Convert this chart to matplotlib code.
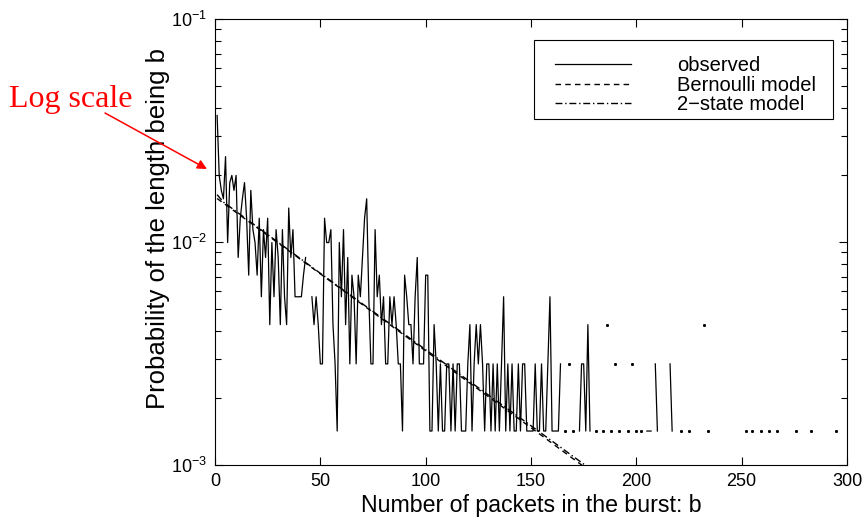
import numpy as np
import matplotlib
matplotlib.use("Agg")
import matplotlib.pyplot as plt
from matplotlib.patches import Rectangle

plt.rcParams['font.family'] = ['Liberation Sans', 'DejaVu Sans']

# observed burst-length counts for b = 1..180 (0 = no burst of that length)
counts_head = [
    26, 14, 12, 11, 17, 7, 13, 14, 12, 14,
    6, 9, 11, 13, 9, 5, 12, 8, 7, 5,
    9, 4, 8, 6, 9, 3, 7, 4, 8, 6,
    3, 8, 4, 3, 10, 6, 8, 4, 4, 4,
    4, 5, 6, 0, 0, 4, 3, 4, 3, 2,
    2, 9, 7, 7, 8, 3, 2, 1, 7, 4,
    8, 3, 6, 2, 5, 4, 2, 5, 4, 6,
    9, 11, 4, 2, 2, 8, 4, 5, 3, 4,
    2, 2, 4, 3, 4, 3, 2, 2, 1, 5,
    4, 3, 3, 2, 4, 6, 2, 2, 2, 5,
    5, 1, 1, 3, 2, 1, 2, 1, 1, 2,
    2, 1, 2, 1, 2, 2, 1, 1, 1, 2,
    3, 1, 2, 3, 2, 3, 2, 1, 2, 2,
    1, 2, 1, 2, 1, 2, 4, 1, 2, 1,
    2, 1, 1, 2, 1, 2, 2, 1, 1, 1,
    1, 2, 1, 1, 2, 1, 1, 2, 4, 1,
    1, 1, 1, 2, 0, 1, 0, 2, 0, 1,
    0, 0, 1, 2, 2, 1, 3, 1, 0, 0,
]
# sparse tail (b > 180)
tail_b = [181, 184, 186, 188, 190, 192, 196, 198, 200, 202, 205, 206, 207, 209, 210,
          216, 217, 221, 225, 232, 234, 252, 255, 259, 263, 267, 276, 283, 295]
tail_k = [1, 1, 3, 1, 2, 1, 1, 2, 1, 1, 1, 1, 1, 2, 1,
          2, 1, 1, 1, 3, 1, 1, 1, 1, 1, 1, 1, 1, 1]
total_bursts = 704

# model curves
bern_b = [1, 50, 100, 150, 200, 300]
bern_p = [0.01567, 0.00720, 0.00325, 0.00147, 0.00066, 0.000135]
two_b = [1, 4, 50, 100, 150, 200, 300]
two_p = [0.0163, 0.0151, 0.00724, 0.00329, 0.00150, 0.00068, 0.00014]

b_obs = np.arange(1, 301)
k_obs = np.zeros(300)
k_obs[:len(counts_head)] = counts_head
for b, k in zip(tail_b, tail_k):
    k_obs[b - 1] = k
p_obs = np.where(k_obs > 0, k_obs / total_bursts, np.nan)

# single points with empty neighbours only show up as dots
has = k_obs > 0
prev_has = np.r_[False, has[:-1]]
next_has = np.r_[has[1:], False]
lonely = has & ~prev_has & ~next_has

fig = plt.figure(figsize=(8.68, 5.19), dpi=100)
ax = fig.add_axes([0.2477, 0.104, 0.7281, 0.8594])

ax.plot(b_obs, p_obs, color='black', lw=0.9, label='observed')
ax.plot(b_obs[lonely], p_obs[lonely], ls='none', marker='s', ms=1.1, color='black')
ax.plot(bern_b, bern_p, color='black', lw=1.0, ls=(0, (4, 3)), label='Bernoulli model')
ax.plot(two_b, two_p, color='black', lw=1.0, ls=(0, (5, 2, 1, 2)), label='2\u2212state model')

ax.set_yscale('log')
ax.set_xlim(0, 300)
ax.set_ylim(1e-3, 1e-1)
ax.set_xticks([0, 50, 100, 150, 200, 250, 300])
ax.tick_params(which='both', direction='in', top=True, right=True, labelsize=13, width=0.8)
ax.tick_params(which='major', length=6, pad=6)
ax.tick_params(which='minor', length=4)
ax.tick_params(axis='x', which='minor', bottom=False, top=False)
for s in ax.spines.values():
    s.set_linewidth(0.8)

ax.set_xlabel('Number of packets in the burst: b', fontsize=16.7)
ax.set_ylabel('Probability of the length being b', fontsize=18.5)
ax.xaxis.set_label_coords(0.5, -0.066)
ax.yaxis.set_label_coords(-0.072, 0.53)

# legend entries without frame, box drawn separately
leg = ax.legend(loc='upper left', bbox_to_anchor=(0.538, 0.916), borderaxespad=0,
                fontsize=14.5, handlelength=3.75, handletextpad=2.3, labelspacing=0.02,
                borderpad=0, frameon=False)
ax.add_patch(Rectangle((0.5047, 0.7758), 0.4731, 0.1771, transform=ax.transAxes,
                       facecolor='white', edgecolor='black', lw=0.8, zorder=4))
leg.set_zorder(5)

fig.text(0.0818, 0.809, 'Log scale', color='red', fontsize=23,
         family='Liberation Serif', ha='center', va='center')
ax.annotate('', xy=(207 / 868, 1 - 169 / 519), xytext=(105 / 868, 1 - 113 / 519),
            xycoords='figure fraction', textcoords='figure fraction',
            arrowprops=dict(arrowstyle='-|>', color='red', lw=1.1, mutation_scale=14,
                            shrinkA=0, shrinkB=0))

fig.savefig('out.png', dpi=100)
